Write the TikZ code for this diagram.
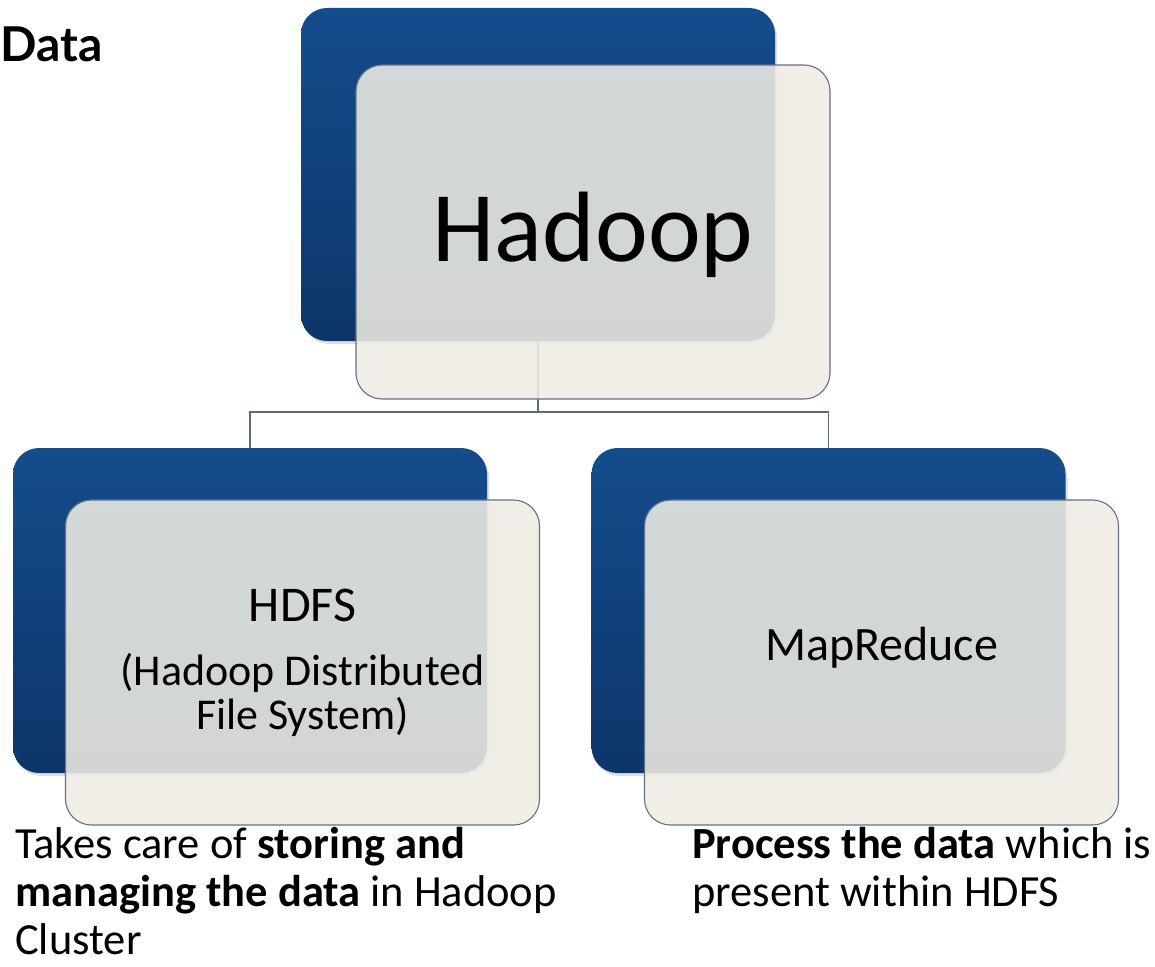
\documentclass[tikz,border=0pt]{standalone}
\usepackage{fontspec}
\setmainfont{Carlito}
\newfontfamily\latofont{Lato}
\usetikzlibrary{shadows}
\definecolor{hblue}{RGB}{20,76,140}
\definecolor{hbluedark}{RGB}{13,54,106}
\definecolor{hcream}{RGB}{239,236,228}
\definecolor{hedge}{RGB}{98,113,133}
\definecolor{hline}{RGB}{92,106,122}
\tikzstyle{back} = [rectangle, rounded corners=26pt, minimum width=474pt, minimum height=325pt, top color=hblue, bottom color=hbluedark, drop shadow={opacity=0.25, shadow xshift=2pt, shadow yshift=-3pt}]
\tikzstyle{front} = [rectangle, rounded corners=26pt, minimum width=474pt, minimum height=325pt, fill=hcream, fill opacity=0.88, text opacity=1, draw=hedge, line width=1.1pt, text centered, align=center]
\tikzstyle{link} = [draw=hline, line width=1.3pt]
\tikzstyle{note} = [anchor=north west, align=left, inner sep=0pt, font=\fontsize{44.5}{48}\selectfont]

\begin{document}
\begin{tikzpicture}[x=1pt, y=-1pt]
        \useasboundingbox (0,0) rectangle (1155,966);
        \node (title) [anchor=base west, inner sep=0pt, font=\latofont\bfseries\fontsize{48}{56}\selectfont] at (0,62) {Data};

        \node (hadoopback) [back, minimum height=333pt] at (538,174.5) {};
        \node (hdfsback) [back] at (250,610.5) {};
        \node (mapback) [back] at (828.5,610.5) {};

        \coordinate (branch) at (538,412);
        \draw [link] (hadoopback.south) -- (branch) -| (hdfsback.north);
        \draw [link] (branch) -| (mapback.north);

        \node (hadoopfront) [front, minimum height=334pt, text height=70pt, text depth=12pt, font=\fontsize{100}{110}\selectfont] at (593,232) {Hadoop};
        \node (hdfsfront) [front, font=\fontsize{44}{44}\selectfont] at (302.5,662.5) {{\fontsize{50}{50}\selectfont HDFS}\\[20pt](Hadoop Distributed\\File System)};
        \node (mapfront) [front, text height=30pt, text depth=35pt, font=\fontsize{48}{56}\selectfont] at (881.5,662.5) {MapReduce};

        \node (hdfsnote) [note] at (15,827) {Takes care of \textbf{storing and}\\\textbf{managing the data} in Hadoop\\Cluster};
        \node (mapnote) [note] at (692,827) {\textbf{Process the data} which is\\present within HDFS};
\end{tikzpicture}
\end{document}
